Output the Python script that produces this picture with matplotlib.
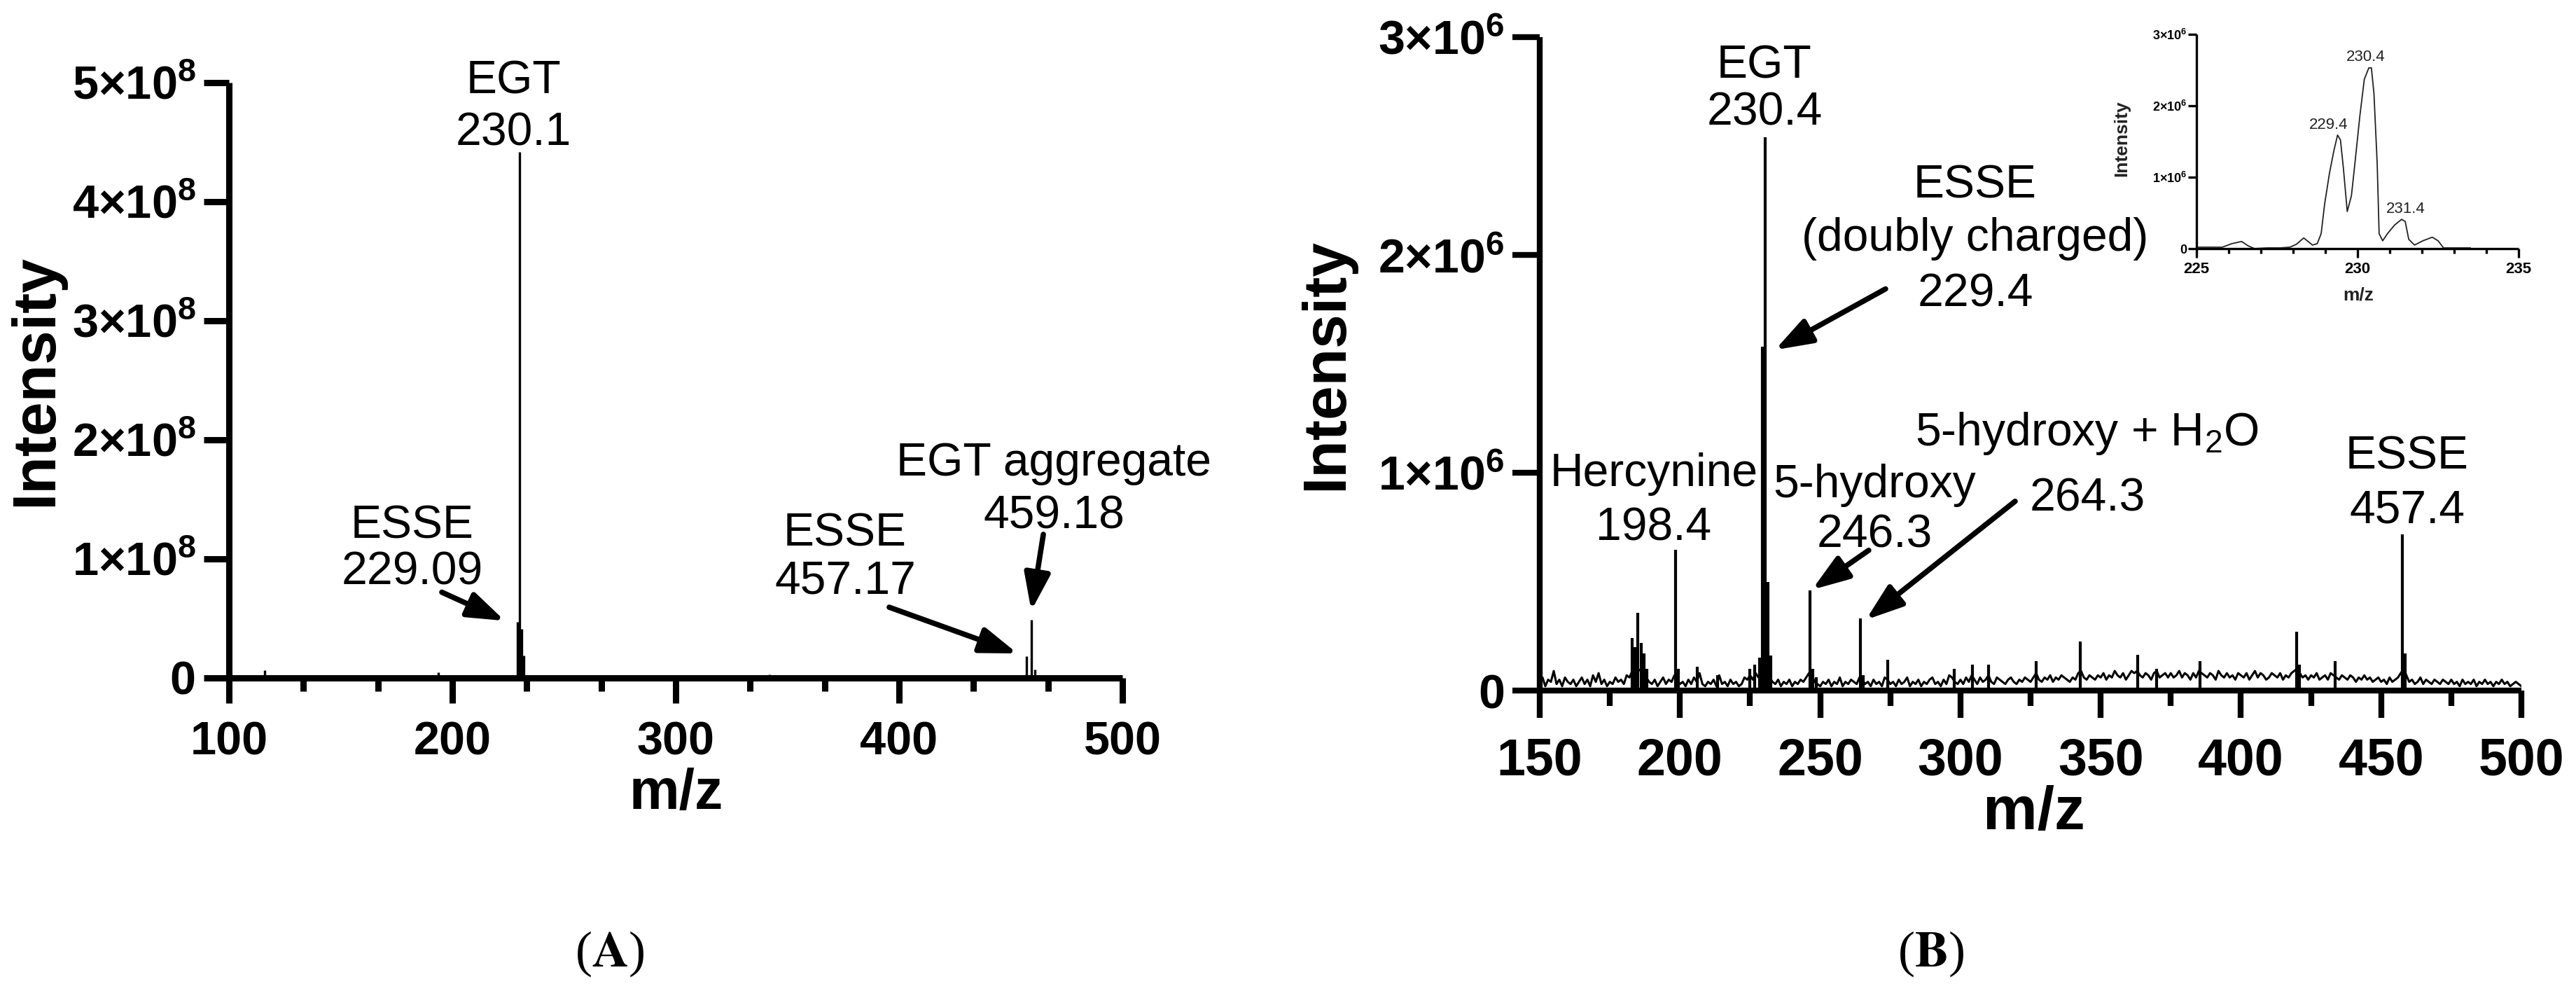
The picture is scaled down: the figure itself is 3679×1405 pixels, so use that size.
import numpy as np
import matplotlib
matplotlib.use("Agg")
import matplotlib.pyplot as plt
from matplotlib.ticker import MultipleLocator, FuncFormatter

plt.rcParams['font.family'] = ['Liberation Sans', 'DejaVu Sans']
plt.rcParams['font.weight'] = 'bold'
plt.rcParams['mathtext.fontset'] = 'custom'
plt.rcParams['mathtext.rm'] = 'Liberation Sans'
plt.rcParams['mathtext.it'] = 'Liberation Sans:italic'
plt.rcParams['mathtext.bf'] = 'Liberation Sans:bold'

# ---------------- data ----------------
# Panel A: stick spectrum (m/z, intensity)
a_mz = [116.0, 186.0, 193.7, 229.09, 230.1, 231.1, 232.1, 342.0, 457.17, 459.18, 460.8]
a_int = [6.5e6, 2.0e6, 5.0e6, 4.7e7, 4.42e8, 4.1e7, 1.9e7, 3.0e6, 1.8e7, 4.9e7, 7.0e6]

# Panel B: main peaks (m/z, intensity x1e6)
b_mz = [182.9, 184.0, 185.0, 186.1, 187.2, 188.2, 198.4, 199.5, 206.2, 213.4,
        224.8, 226.6, 228.3, 229.4, 230.4, 231.4, 232.4, 246.3, 247.4, 248.5,
        264.3, 265.4, 274.1, 297.9, 304.3, 310.1, 327.0, 342.7, 363.2, 370.0,
        385.3, 419.8, 420.9, 433.5, 457.6, 458.6]
b_int = [0.24, 0.20, 0.356, 0.22, 0.17, 0.10, 0.646, 0.10, 0.11, 0.07,
         0.10, 0.12, 0.15, 1.58, 2.54, 0.50, 0.16, 0.46, 0.10, 0.06,
         0.33, 0.07, 0.14, 0.10, 0.12, 0.12, 0.136, 0.224, 0.163, 0.10,
         0.136, 0.27, 0.12, 0.136, 0.716, 0.17]

# Panel B: baseline noise, one value per m/z unit from 150 to 500 (x1e4)
b_noise_rows = [
    [3, 6, 2, 5, 4, 9, 3, 5, 2, 6, 4, 3, 5, 2, 4, 6, 3, 5, 2, 7, 4, 8, 3, 5, 2],
    [4, 3, 6, 4, 5, 3, 7, 6, 9, 12, 10, 9, 8, 6, 4, 3, 5, 2, 4, 6, 3, 5, 4, 7, 5],
    [3, 4, 2, 5, 3, 6, 4, 8, 3, 2, 4, 3, 5, 2, 7, 3, 4, 2, 5, 3, 4, 2, 3, 6, 5],
    [7, 5, 8, 6, 9, 12, 10, 6, 4, 3, 5, 2, 4, 3, 5, 2, 4, 3, 5, 4, 6, 8, 7, 4, 3],
    [2, 4, 3, 5, 2, 4, 3, 6, 2, 4, 3, 5, 4, 3, 6, 5, 3, 4, 2, 5, 3, 4, 2, 6, 5],
    [3, 4, 2, 5, 3, 4, 6, 2, 4, 3, 5, 2, 4, 3, 5, 6, 3, 4, 2, 5, 3, 7, 6, 4, 3],
    [5, 3, 6, 4, 7, 5, 3, 6, 4, 5, 7, 4, 3, 6, 5, 4, 3, 5, 6, 4, 3, 5, 4, 6, 5],
    [4, 6, 8, 5, 4, 6, 5, 7, 4, 6, 5, 7, 6, 5, 4, 6, 5, 8, 9, 6, 5, 7, 6, 5, 7],
    [6, 8, 5, 7, 6, 9, 7, 6, 8, 5, 7, 9, 8, 9, 7, 6, 8, 7, 5, 8, 9, 6, 7, 8, 6],
    [8, 6, 7, 9, 6, 8, 7, 5, 8, 6, 9, 8, 7, 6, 8, 7, 5, 9, 7, 6, 8, 6, 7, 5, 8],
    [7, 6, 8, 5, 7, 9, 6, 8, 7, 5, 6, 8, 7, 6, 8, 5, 7, 6, 8, 9, 10, 8, 6, 7, 5],
    [7, 6, 8, 5, 6, 7, 5, 8, 7, 6, 5, 7, 6, 5, 7, 6, 4, 6, 5, 7, 5, 6, 4, 5, 6],
    [4, 5, 3, 6, 4, 5, 6, 8, 10, 7, 4, 5, 3, 4, 6, 3, 5, 4, 3, 5, 4, 3, 5, 4, 3],
    [5, 3, 4, 2, 5, 3, 4, 3, 5, 2, 4, 3, 5, 3, 4, 2, 4, 3, 5, 3, 4, 2, 3, 4, 3, 2],
]
b_noise_start, b_noise_step = 150, 1

# Inset: profile around m/z 230 (intensity x1e6)
in_mz = [225.0, 225.4, 225.8, 226.1, 226.4, 226.6, 226.8, 227.2, 227.6, 227.9,
         228.1, 228.33, 228.6, 228.75, 228.87, 228.98, 229.13, 229.27, 229.38, 229.47,
         229.56, 229.68, 229.81, 229.92, 230.07, 230.21, 230.35, 230.43, 230.51, 230.61,
         230.67, 230.78, 230.93, 231.15, 231.37, 231.48, 231.59, 231.77, 232.03, 232.32,
         232.5, 232.67, 233.2, 233.5]
in_int = [0.02, 0.02, 0.02, 0.07, 0.10, 0.04, 0.00, 0.01, 0.01, 0.02,
          0.06, 0.15, 0.05, 0.07, 0.21, 0.63, 1.06, 1.38, 1.59, 1.52,
          1.13, 0.52, 0.74, 1.20, 1.85, 2.37, 2.53, 2.53, 2.17, 1.19,
          0.21, 0.11, 0.21, 0.33, 0.41, 0.38, 0.13, 0.05, 0.11, 0.16,
          0.11, 0.01, 0.01, 0.01]

# ---------------- figure ----------------
W, H, DPI = 3679, 1405, 100
fig = plt.figure(figsize=(W / DPI, H / DPI), dpi=DPI)


def px_axes(x0, x1, y_top, y_bot):
    return fig.add_axes([x0 / W, 1 - y_bot / H, (x1 - x0) / W, (y_bot - y_top) / H])


def sci_fmt(exp):
    def f(v, pos):
        if abs(v) < 1e-9:
            return '0'
        return r'$\mathbf{%d×10^{%d}}$' % (round(v / 10 ** exp), exp)
    return FuncFormatter(f)


def style_axes(ax, spine_w, maj_len, min_len, xlab_size, ylab_size, xpad, ypad):
    for s in ('top', 'right'):
        ax.spines[s].set_visible(False)
    for s in ('left', 'bottom'):
        ax.spines[s].set_linewidth(spine_w)
        ax.spines[s].set_capstyle('butt')
    ax.tick_params(which='major', length=maj_len, width=spine_w, direction='out')
    ax.tick_params(which='minor', length=min_len, width=spine_w, direction='out')
    ax.tick_params(axis='x', labelsize=xlab_size, pad=xpad)
    ax.tick_params(axis='y', labelsize=ylab_size, pad=ypad)
    ax.yaxis.set_minor_locator(plt.NullLocator())
    ax.set_facecolor('none')


ARROW = dict(arrowstyle='-|>,head_length=0.8,head_width=0.28', lw=5.5, color='k',
             shrinkA=0, shrinkB=0, mutation_scale=40)


def label_lines(ax, x, ys, texts):
    for y, s in zip(ys, texts):
        ax.text(x, y, s, ha='center', va='baseline', fontsize=47.5, fontweight='normal')


# ---------- Panel A ----------
axA = px_axes(327, 1603, 118, 968)
axA.vlines(a_mz, 0, a_int, color='k', lw=2.4)
axA.set_xlim(100, 500)
axA.set_ylim(0, 5e8)
axA.xaxis.set_major_locator(MultipleLocator(100))
axA.xaxis.set_minor_locator(MultipleLocator(100 / 3))
axA.yaxis.set_major_locator(MultipleLocator(1e8))
axA.yaxis.set_major_formatter(sci_fmt(8))
style_axes(axA, 6.5, 26, 13.5, 48, 48, 18, 8)

label_lines(axA, 227.3, [4.906e8, 4.476e8], ['EGT', '230.1'])
label_lines(axA, 182.1, [1.176e8, 0.788e8], ['ESSE', '229.09'])
label_lines(axA, 375.9, [1.106e8, 0.706e8], ['ESSE', '457.17'])
label_lines(axA, 469.3, [1.70e8, 1.253e8], ['EGT aggregate', '459.18'])
axA.annotate('', xy=(223.5, 0.48e8), xytext=(195.3, 0.72e8), arrowprops=ARROW)
axA.annotate('', xy=(453.0, 0.206e8), xytext=(395.6, 0.594e8), arrowprops=ARROW)
axA.annotate('', xy=(459.2, 0.565e8), xytext=(464.6, 1.206e8), arrowprops=ARROW)

# ---------- Panel B ----------
axB = px_axes(2199, 3601, 53, 986)
noise = np.concatenate([np.array(r, float) for r in b_noise_rows]) * 1e4
noise_mz = b_noise_start + b_noise_step * np.arange(len(noise))
axB.plot(noise_mz, noise, color='k', lw=2.2)
axB.vlines(b_mz, 0, np.array(b_int) * 1e6, color='k', lw=3.0)
axB.set_xlim(150, 500)
axB.set_ylim(0, 3e6)
axB.xaxis.set_major_locator(MultipleLocator(50))
axB.xaxis.set_minor_locator(MultipleLocator(25))
axB.yaxis.set_major_locator(MultipleLocator(1e6))
axB.yaxis.set_major_formatter(sci_fmt(6))
style_axes(axB, 6.0, 28, 16, 53, 49, 20, 8)

label_lines(axB, 230.1, [2.813e6, 2.597e6], ['EGT', '230.4'])
label_lines(axB, 305.3, [2.262e6, 2.018e6, 1.764e6], ['ESSE', '(doubly charged)', '229.4'])
label_lines(axB, 190.7, [0.940e6, 0.689e6], ['Hercynine', '198.4'])
label_lines(axB, 269.3, [0.889e6, 0.657e6], ['5-hydroxy', '246.3'])
label_lines(axB, 345.2, [1.124e6, 0.824e6], [r'5-hydroxy + H$_\mathregular{2}$O', '264.3'])
label_lines(axB, 459.3, [1.017e6, 0.769e6], ['ESSE', '457.4'])
axB.annotate('', xy=(233.9, 1.564e6), xytext=(273.3, 1.844e6), arrowprops=ARROW)
axB.annotate('', xy=(247.1, 0.463e6), xytext=(267.3, 0.644e6), arrowprops=ARROW)
axB.annotate('', xy=(266.3, 0.325e6), xytext=(319.5, 0.869e6), arrowprops=ARROW)

# ---------- Inset ----------
axI = px_axes(3137, 3597, 49, 355)
axI.plot(in_mz, np.array(in_int) * 1e6, color='#222222', lw=1.3)
axI.set_xlim(225, 235)
axI.set_ylim(0, 3e6)
axI.xaxis.set_major_locator(MultipleLocator(5))
axI.xaxis.set_minor_locator(MultipleLocator(1))
axI.yaxis.set_major_locator(MultipleLocator(1e6))
axI.yaxis.set_major_formatter(sci_fmt(6))
style_axes(axI, 2.4, 9, 5, 16, 13, 5, 1)
INS = dict(ha='center', va='center', fontsize=16, fontweight='normal', color='#222222')
axI.text(230.26, 2.68e6, '230.4', **INS)
axI.text(229.09, 1.73e6, '229.4', **INS)
axI.text(231.5, 0.55e6, '231.4', **INS)

# ---------- axis titles ----------
def ftext(x, y, s, **kw):
    fig.text(x / W, 1 - y / H, s, ha='center', va='center', **kw)

ftext(52, 543, 'Intensity', rotation=90, fontsize=63, fontweight='bold')
ftext(1895, 520, 'Intensity', rotation=90, fontsize=63, fontweight='bold')
ftext(966, 1134, 'm/z', fontsize=58, fontweight='bold')
ftext(2905, 1162, 'm/z', fontsize=63, fontweight='bold')
ftext(3030, 198, 'Intensity', rotation=90, fontsize=19, fontweight='bold', color='#222222')
ftext(3368, 421, 'm/z', fontsize=19, fontweight='bold', color='#222222')

ftext(871, 1362, r'($\mathbf{A}$)', family='Liberation Serif', math_fontfamily='stix',
      fontsize=52, fontweight='normal')
ftext(2758, 1362, r'($\mathbf{B}$)', family='Liberation Serif', math_fontfamily='stix',
      fontsize=52, fontweight='normal')

fig.savefig('out.png', dpi=DPI, facecolor='white')
